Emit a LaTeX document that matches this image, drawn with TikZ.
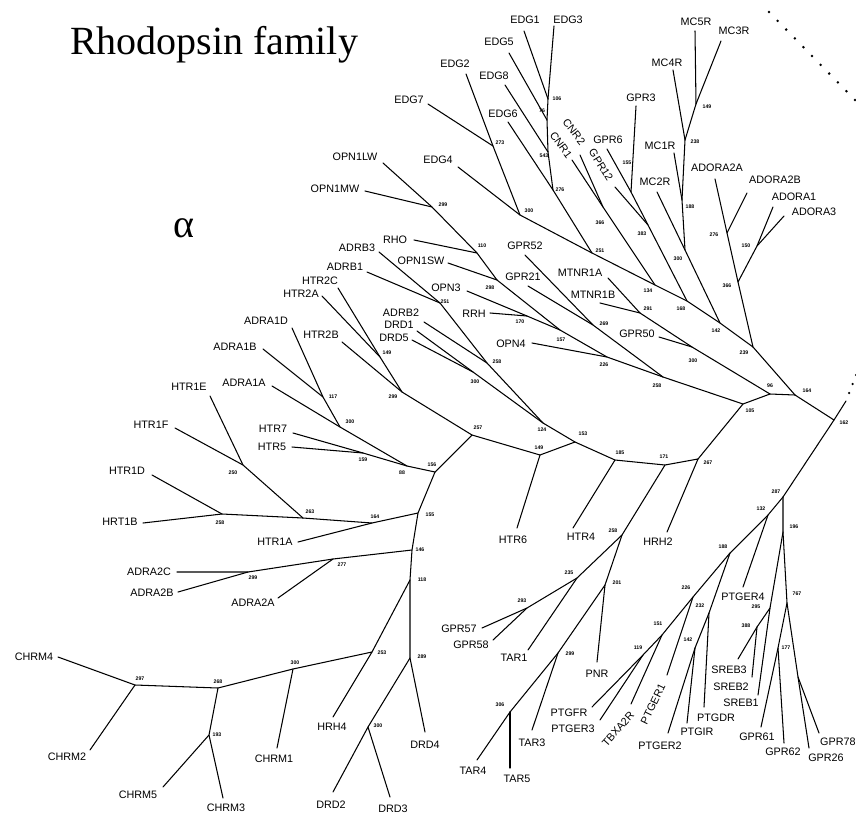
\documentclass[tikz,border=0pt]{standalone}
\usepackage{fontspec}
\setmainfont{Liberation Sans}
\newfontfamily\titlefont{Liberation Serif}
\usetikzlibrary{calc}
\begin{document}
\begin{tikzpicture}[x=1pt,y=-1pt,
  br/.style={line width=1.05pt,line cap=round,line join=round},
  lf/.style={font=\fontsize{10.8}{12}\selectfont,inner sep=0pt},
  bs/.style={font=\fontsize{5.2}{6}\selectfont\bfseries,inner sep=0pt}]
\useasboundingbox (0,0) rectangle (856,814);
\fill[white] (0,0) rectangle (856,814);
% titles
\node[font=\titlefont\fontsize{40}{44}\selectfont,anchor=base west,inner sep=0pt] (title) at (70,54) {Rhodopsin family};
\node[font=\titlefont\fontsize{40}{44}\selectfont,anchor=base,inner sep=0pt] (alpha) at (184,237) {α};
% ---------- internal nodes ----------
\coordinate (n106) at (548,99);
\coordinate (n76) at (547,120);
\coordinate (n543) at (548,152);
\coordinate (n276a) at (553,190);
\coordinate (n273) at (493,146);
\coordinate (n300a) at (520,215);
\coordinate (n251a) at (592,253);
\coordinate (n366a) at (603,207);
\coordinate (n134) at (655,285);
\coordinate (n155a) at (631,192);
\coordinate (n383) at (648,225);
\coordinate (n168) at (687,301);
\coordinate (n149a) at (696,104);
\coordinate (n238) at (685,140);
\coordinate (n188a) at (682,200);
\coordinate (n300b) at (685,250);
\coordinate (n142a) at (720,323);
\coordinate (n276b) at (727,233);
\coordinate (n150) at (757,246);
\coordinate (n366b) at (738,282);
\coordinate (n239) at (753,347);
\coordinate (n164a) at (795,395);
\coordinate (n96) at (770,394);
\coordinate (n162) at (834,420);
\coordinate (n105) at (743,404);
\coordinate (n291) at (640,313);
\coordinate (n300c) at (692,347);
\coordinate (n258a) at (663,377);
\coordinate (n269) at (593,325);
\coordinate (n226a) at (607,357);
\coordinate (n157) at (560,330);
\coordinate (n170) at (527,316);
\coordinate (n298) at (497,280);
\coordinate (n110) at (477,253);
\coordinate (n299a) at (432,207);
\coordinate (n251b) at (440,303);
\coordinate (n258b) at (487,363);
\coordinate (n300d) at (473,372);
\coordinate (n124) at (543,423);
\coordinate (n153) at (575,442);
\coordinate (n149b) at (540,455);
\coordinate (n257) at (472,435);
\coordinate (n299b) at (402,392);
\coordinate (n149c) at (380,357);
\coordinate (n156) at (435,472);
\coordinate (n88) at (407,466);
\coordinate (n159) at (363,453);
\coordinate (n300e) at (340,427);
\coordinate (n117) at (323,397);
\coordinate (n155b) at (418,513);
\coordinate (n164b) at (372,523);
\coordinate (n263) at (303,518);
\coordinate (n258c) at (222,514);
\coordinate (n250) at (243,465);
\coordinate (n146) at (412,550);
\coordinate (n277) at (333,559);
\coordinate (n299c) at (248,572);
\coordinate (n118) at (410,580);
\coordinate (n253) at (372,652);
\coordinate (n300f) at (293,669);
\coordinate (n268) at (218,688);
\coordinate (n297) at (135,685);
\coordinate (n193) at (209,735);
\coordinate (n289) at (410,658);
\coordinate (n300g) at (368,727);
\coordinate (n185) at (615,460);
\coordinate (n171) at (665,465);
\coordinate (n267) at (698,459);
\coordinate (n258d) at (622,535);
\coordinate (n235) at (577,578);
\coordinate (n293) at (527,608);
\coordinate (n201) at (605,585);
\coordinate (n299d) at (558,653);
\coordinate (n306) at (510,712);
\coordinate (n287) at (783,497);
\coordinate (n132) at (768,515);
\coordinate (n196) at (783,532);
\coordinate (n295) at (770,608);
\coordinate (n388) at (757,627);
\coordinate (n767) at (787,603);
\coordinate (n177) at (778,648);
\coordinate (n78) at (798,677);
\coordinate (n188b) at (730,553);
\coordinate (n226b) at (693,597);
\coordinate (n232) at (709,613);
\coordinate (n142b) at (695,648);
\coordinate (n151) at (662,635);
\coordinate (n119) at (643,655);
\coordinate (dA) at (769,12);
\coordinate (dB) at (855,100);
\coordinate (dC) at (846,401);
% ---------- leaf tips ----------
\coordinate (tEDG1) at (524,31);
\coordinate (tEDG3) at (554,26);
\coordinate (tEDG5) at (509,53);
\coordinate (tEDG2) at (466,74);
\coordinate (tEDG8) at (505,85);
\coordinate (tEDG7) at (428,104);
\coordinate (tEDG6) at (508,122);
\coordinate (tEDG4) at (458,167);
\coordinate (tOPN1LW) at (383,163);
\coordinate (tOPN1MW) at (365,191);
\coordinate (tRHO) at (414,240);
\coordinate (tOPN1SW) at (448,263);
\coordinate (tADRB3) at (379,252);
\coordinate (tADRB1) at (367,272);
\coordinate (tHTR2C) at (338,288);
\coordinate (tHTR2A) at (322,296);
\coordinate (tHTR2B) at (342,342);
\coordinate (tADRA1D) at (292,328);
\coordinate (tADRA1B) at (263,349);
\coordinate (tADRA1A) at (272,386);
\coordinate (tHTR1E) at (210,396);
\coordinate (tHTR1F) at (175,428);
\coordinate (tHTR1D) at (152,475);
\coordinate (tHRT1B) at (143,523);
\coordinate (tHTR7) at (293,433);
\coordinate (tHTR5) at (292,447);
\coordinate (tHTR1A) at (298,542);
\coordinate (tADRA2C) at (177,572);
\coordinate (tADRA2B) at (178,592);
\coordinate (tADRA2A) at (278,598);
\coordinate (tCHRM4) at (58,657);
\coordinate (tCHRM2) at (90,750);
\coordinate (tCHRM5) at (163,787);
\coordinate (tCHRM3) at (223,798);
\coordinate (tCHRM1) at (277,748);
\coordinate (tHRH4) at (333,717);
\coordinate (tDRD4) at (425,732);
\coordinate (tDRD2) at (333,792);
\coordinate (tDRD3) at (390,797);
\coordinate (tGPR57) at (482,628);
\coordinate (tGPR58) at (493,640);
\coordinate (tTAR1) at (528,650);
\coordinate (tTAR3) at (532,730);
\coordinate (tTAR4) at (477,760);
\coordinate (tTAR5) at (510,768);
\coordinate (tPNR) at (597,662);
\coordinate (tHTR4) at (573,528);
\coordinate (tHTR6) at (517,528);
\coordinate (tHRH2) at (667,532);
\coordinate (tPTGFR) at (592,707);
\coordinate (tPTGER3) at (600,720);
\coordinate (tTBXA2R) at (631,704);
\coordinate (tPTGER1) at (667,675);
\coordinate (tPTGER2) at (668,733);
\coordinate (tPTGIR) at (687,723);
\coordinate (tPTGDR) at (704,707);
\coordinate (tPTGER4) at (743,587);
\coordinate (tSREB3) at (738,659);
\coordinate (tSREB2) at (752,677);
\coordinate (tSREB1) at (758,695);
\coordinate (tGPR61) at (761,727);
\coordinate (tGPR62) at (784,743);
\coordinate (tGPR26) at (809,748);
\coordinate (tGPR78) at (819,733);
\coordinate (tGPR3) at (636,106);
\coordinate (tGPR6) at (607,149);
\coordinate (tGPR12) at (615,187);
\coordinate (tCNR2) at (580,155);
\coordinate (tCNR1) at (572,160);
\coordinate (tMC5R) at (695,31);
\coordinate (tMC3R) at (721,41);
\coordinate (tMC4R) at (673,70);
\coordinate (tMC1R) at (674,153);
\coordinate (tMC2R) at (657,192);
\coordinate (tADORA2A) at (715,179);
\coordinate (tADORA2B) at (747,193);
\coordinate (tADORA1) at (773,207);
\coordinate (tADORA3) at (784,216);
\coordinate (tGPR52) at (525,255);
\coordinate (tGPR21) at (528,286);
\coordinate (tMTNR1A) at (608,278);
\coordinate (tMTNR1B) at (600,303);
\coordinate (tGPR50) at (659,337);
\coordinate (tOPN3) at (467,291);
\coordinate (tRRH) at (490,313);
\coordinate (tOPN4) at (532,343);
\coordinate (tADRB2) at (424,322);
\coordinate (tDRD1) at (417,331);
\coordinate (tDRD5) at (412,340);
% ---------- branches ----------
\draw[br] (tEDG1) -- (n106);
\draw[br] (tEDG3) -- (n106) -- (n76) -- (n543) -- (n276a) -- (n251a);
\draw[br] (tEDG5) -- (n76);
\draw[br] (tEDG8) -- (n543);
\draw[br] (tEDG6) -- (n276a);
\draw[br] (tEDG2) -- (n273) -- (n300a) -- (n251a);
\draw[br] (tEDG7) -- (n273);
\draw[br] (tEDG4) -- (n300a);
\draw[br] (n251a) -- (n134) -- (n168) -- (n142a) -- (n239) -- (n164a) -- (n162) -- (n287);
\draw[br] (tCNR2) -- (n366a);
\draw[br] (tCNR1) -- (n366a) -- (n134);
\draw[br] (tGPR6) -- (n155a) -- (n383) -- (n168);
\draw[br] (tGPR3) -- (n155a);
\draw[br] (tGPR12) -- (n383);
\draw[br] (tMC5R) -- (n149a) -- (n238) -- (n188a) -- (n300b) -- (n142a);
\draw[br] (tMC3R) -- (n149a);
\draw[br] (tMC4R) -- (n238);
\draw[br] (tMC1R) -- (n188a);
\draw[br] (tMC2R) -- (n300b);
\draw[br] (tADORA2A) -- (n276b) -- (n366b) -- (n239);
\draw[br] (tADORA2B) -- (n276b);
\draw[br] (tADORA1) -- (n150) -- (n366b);
\draw[br] (tADORA3) -- (n150);
\draw[br] (tMTNR1A) -- (n291) -- (n300c) -- (n96) -- (n164a);
\draw[br] (tMTNR1B) -- (n291);
\draw[br] (tGPR50) -- (n300c);
\draw[br] (n96) -- (n105);
\draw[br] (tGPR52) -- (n269) -- (n258a) -- (n105) -- (n267);
\draw[br] (tGPR21) -- (n269);
\draw[br] (tOPN1LW) -- (n299a) -- (n110) -- (n298) -- (n157) -- (n226a) -- (n258a);
\draw[br] (tOPN1MW) -- (n299a);
\draw[br] (tRHO) -- (n110);
\draw[br] (tOPN1SW) -- (n298);
\draw[br] (tOPN3) -- (n170) -- (n157);
\draw[br] (tRRH) -- (n170);
\draw[br] (tOPN4) -- (n226a);
\draw[br] (tADRB3) -- (n251b) -- (n258b) -- (n124) -- (n153) -- (n185) -- (n171) -- (n267);
\draw[br] (tADRB1) -- (n251b);
\draw[br] (tADRB2) -- (n258b);
\draw[br] (tDRD1) -- (n300d) -- (n124);
\draw[br] (tDRD5) -- (n300d);
\draw[br] (tHTR2C) -- (n149c) -- (n299b) -- (n257) -- (n149b) -- (n153);
\draw[br] (tHTR2A) -- (n149c);
\draw[br] (tHTR2B) -- (n299b);
\draw[br] (tHTR6) -- (n149b);
\draw[br] (tHTR4) -- (n185);
\draw[br] (tHRH2) -- (n267);
\draw[br] (n171) -- (n258d) -- (n235) -- (n293) -- (tGPR57);
\draw[br] (tGPR58) -- (n293);
\draw[br] (tTAR1) -- (n235);
\draw[br] (n258d) -- (n201) -- (n299d) -- (n306) -- (tTAR4);
\draw[br] (tPNR) -- (n201);
\draw[br] (tTAR3) -- (n299d);
\draw[br] (tTAR5) -- (n306);
\draw[br] (n257) -- (n156) -- (n155b) -- (n146) -- (n118) -- (n289) -- (n300g) -- (tDRD2);
\draw[br] (tHTR7) -- (n159) -- (n88) -- (n156);
\draw[br] (tHTR5) -- (n159);
\draw[br] (tADRA1D) -- (n117) -- (n300e) -- (n88);
\draw[br] (tADRA1B) -- (n117);
\draw[br] (tADRA1A) -- (n300e);
\draw[br] (tHTR1F) -- (n250) -- (n263) -- (n164b) -- (n155b);
\draw[br] (tHTR1E) -- (n250);
\draw[br] (tHTR1D) -- (n258c) -- (n263);
\draw[br] (tHRT1B) -- (n258c);
\draw[br] (tHTR1A) -- (n164b);
\draw[br] (tADRA2C) -- (n299c) -- (n277) -- (n146);
\draw[br] (tADRA2B) -- (n299c);
\draw[br] (tADRA2A) -- (n277);
\draw[br] (tHRH4) -- (n253) -- (n118);
\draw[br] (n253) -- (n300f) -- (n268) -- (n297) -- (tCHRM4);
\draw[br] (tCHRM1) -- (n300f);
\draw[br] (tCHRM2) -- (n297);
\draw[br] (n268) -- (n193) -- (tCHRM5);
\draw[br] (tCHRM3) -- (n193);
\draw[br] (tDRD4) -- (n289);
\draw[br] (tDRD3) -- (n300g);
\draw[br] (n287) -- (n132) -- (n188b) -- (n226b) -- (n151) -- (n119) -- (tPTGFR);
\draw[br] (tPTGER3) -- (n119);
\draw[br] (tTBXA2R) -- (n151);
\draw[br] (tPTGER1) -- (n226b);
\draw[br] (n188b) -- (n232) -- (n142b) -- (tPTGER2);
\draw[br] (tPTGDR) -- (n232);
\draw[br] (tPTGIR) -- (n142b);
\draw[br] (tPTGER4) -- (n132);
\draw[br] (n287) -- (n196) -- (n767) -- (n177) -- (tGPR61);
\draw[br] (tGPR62) -- (n177);
\draw[br] (n767) -- (n78) -- (tGPR26);
\draw[br] (tGPR78) -- (n78);
\draw[br] (n196) -- (n295) -- (tSREB1);
\draw[br] (n295) -- (n388) -- (tSREB3);
\draw[br] (tSREB2) -- (n388);
\draw[br] (n162) -- (dC);
\foreach \i in {0,...,10} \fill ($(dA)!\i/10!(dB)$) circle (1.4pt);
\foreach \p in {(849,393),(852.5,384),(856,375)} \fill \p circle (1.25pt);
% ---------- leaf labels ----------
\node[lf] (lEDG1) at (525,20) {EDG1};
\node[lf] (lEDG3) at (568,20) {EDG3};
\node[lf] (lEDG5) at (499,42) {EDG5};
\node[lf] (lEDG2) at (455,64) {EDG2};
\node[lf] (lEDG8) at (494,76) {EDG8};
\node[lf] (lEDG7) at (409,100) {EDG7};
\node[lf] (lEDG6) at (503,114) {EDG6};
\node[lf] (lEDG4) at (438,160) {EDG4};
\node[lf] (lOPN1LW) at (355,157) {OPN1LW};
\node[lf] (lOPN1MW) at (335,189) {OPN1MW};
\node[lf] (lRHO) at (395,240) {RHO};
\node[lf] (lOPN1SW) at (421,261) {OPN1SW};
\node[lf] (lADRB3) at (357,248) {ADRB3};
\node[lf] (lADRB1) at (345,267) {ADRB1};
\node[lf] (lHTR2C) at (320,281) {HTR2C};
\node[lf] (lHTR2A) at (301,294) {HTR2A};
\node[lf] (lHTR2B) at (321,335) {HTR2B};
\node[lf] (lADRA1D) at (266,321) {ADRA1D};
\node[lf] (lADRA1B) at (235,347) {ADRA1B};
\node[lf] (lADRA1A) at (244,383) {ADRA1A};
\node[lf] (lHTR1E) at (189,387) {HTR1E};
\node[lf] (lHTR1F) at (151,425) {HTR1F};
\node[lf] (lHTR1D) at (127,471) {HTR1D};
\node[lf] (lHRT1B) at (120,522) {HRT1B};
\node[lf] (lHTR7) at (273,429) {HTR7};
\node[lf] (lHTR5) at (272,447) {HTR5};
\node[lf] (lHTR1A) at (275,542) {HTR1A};
\node[lf] (lADRA2C) at (149,572) {ADRA2C};
\node[lf] (lADRA2B) at (152,593) {ADRA2B};
\node[lf] (lADRA2A) at (253,603) {ADRA2A};
\node[lf] (lCHRM4) at (34,657) {CHRM4};
\node[lf] (lCHRM2) at (67,757) {CHRM2};
\node[lf] (lCHRM5) at (138,795) {CHRM5};
\node[lf] (lCHRM3) at (226,808) {CHRM3};
\node[lf] (lCHRM1) at (274,759) {CHRM1};
\node[lf] (lHRH4) at (332,727) {HRH4};
\node[lf] (lDRD4) at (425,745) {DRD4};
\node[lf] (lDRD2) at (331,805) {DRD2};
\node[lf] (lDRD3) at (393,809) {DRD3};
\node[lf] (lGPR57) at (459,629) {GPR57};
\node[lf] (lGPR58) at (471,645) {GPR58};
\node[lf] (lTAR1) at (514,658) {TAR1};
\node[lf] (lTAR3) at (532,743) {TAR3};
\node[lf] (lTAR4) at (473,771) {TAR4};
\node[lf] (lTAR5) at (517,779) {TAR5};
\node[lf] (lPNR) at (597,674) {PNR};
\node[lf] (lHTR4) at (581,537) {HTR4};
\node[lf] (lHTR6) at (513,540) {HTR6};
\node[lf] (lHRH2) at (658,542) {HRH2};
\node[lf] (lPTGFR) at (569,713) {PTGFR};
\node[lf] (lPTGER3) at (573,729) {PTGER3};
\node[lf,rotate=48] (lTBXA2R) at (618,729) {TBXA2R};
\node[lf,rotate=64] (lPTGER1) at (653,704) {PTGER1};
\node[lf] (lPTGER2) at (660,746) {PTGER2};
\node[lf] (lPTGIR) at (697,732) {PTGIR};
\node[lf] (lPTGDR) at (716,718) {PTGDR};
\node[lf] (lPTGER4) at (743,597) {PTGER4};
\node[lf] (lSREB3) at (729,670) {SREB3};
\node[lf] (lSREB2) at (731,687) {SREB2};
\node[lf] (lSREB1) at (741,703) {SREB1};
\node[lf] (lGPR61) at (757,737) {GPR61};
\node[lf] (lGPR62) at (783,752) {GPR62};
\node[lf] (lGPR26) at (826,758) {GPR26};
\node[lf,anchor=west] (lGPR78) at (820,742) {GPR78};
\node[lf] (lGPR3) at (641,98) {GPR3};
\node[lf] (lGPR6) at (608,140) {GPR6};
\node[lf,rotate=-58] (lGPR12) at (601,165) {GPR12};
\node[lf,rotate=-52] (lCNR2) at (574,132) {CNR2};
\node[lf,rotate=-54] (lCNR1) at (561,145) {CNR1};
\node[lf] (lMC5R) at (696,22) {MC5R};
\node[lf] (lMC3R) at (734,31) {MC3R};
\node[lf] (lMC4R) at (667,63) {MC4R};
\node[lf] (lMC1R) at (660,146) {MC1R};
\node[lf] (lMC2R) at (655,182) {MC2R};
\node[lf] (lADORA2A) at (717,168) {ADORA2A};
\node[lf] (lADORA2B) at (775,180) {ADORA2B};
\node[lf] (lADORA1) at (794,197) {ADORA1};
\node[lf] (lADORA3) at (814,212) {ADORA3};
\node[lf] (lGPR52) at (525,246) {GPR52};
\node[lf] (lGPR21) at (523,277) {GPR21};
\node[lf] (lMTNR1A) at (580,273) {MTNR1A};
\node[lf] (lMTNR1B) at (593,295) {MTNR1B};
\node[lf] (lGPR50) at (637,334) {GPR50};
\node[lf] (lOPN3) at (446,288) {OPN3};
\node[lf] (lRRH) at (474,314) {RRH};
\node[lf] (lOPN4) at (511,344) {OPN4};
\node[lf] (lADRB2) at (401,313) {ADRB2};
\node[lf] (lDRD1) at (399,325) {DRD1};
\node[lf] (lDRD5) at (394,338) {DRD5};
% ---------- bootstrap values ----------
\node[bs] (b01) at (557,99) {106};
\node[bs] (b02) at (542,111) {76};
\node[bs] (b03) at (544,156) {543};
\node[bs] (b04) at (560,190) {276};
\node[bs] (b05) at (500,143) {273};
\node[bs] (b06) at (529,211) {300};
\node[bs] (b07) at (600,251) {251};
\node[bs] (b08) at (600,223) {366};
\node[bs] (b09) at (627,163) {155};
\node[bs] (b10) at (642,234) {383};
\node[bs] (b11) at (648,291) {134};
\node[bs] (b12) at (681,309) {168};
\node[bs] (b13) at (678,259) {300};
\node[bs] (b14) at (707,107) {149};
\node[bs] (b15) at (695,142) {238};
\node[bs] (b16) at (690,207) {188};
\node[bs] (b17) at (716,331) {142};
\node[bs] (b18) at (714,235) {276};
\node[bs] (b19) at (746,246) {150};
\node[bs] (b20) at (727,286) {366};
\node[bs] (b21) at (744,353) {239};
\node[bs] (b22) at (807,391) {164};
\node[bs] (b23) at (770,386) {96};
\node[bs] (b24) at (844,423) {162};
\node[bs] (b25) at (750,411) {105};
\node[bs] (b26) at (648,309) {291};
\node[bs] (b27) at (693,361) {300};
\node[bs] (b28) at (657,386) {258};
\node[bs] (b29) at (604,324) {269};
\node[bs] (b30) at (604,365) {226};
\node[bs] (b31) at (561,340) {157};
\node[bs] (b32) at (520,322) {170};
\node[bs] (b33) at (490,288) {298};
\node[bs] (b34) at (482,246) {110};
\node[bs] (b35) at (443,205) {299};
\node[bs] (b36) at (445,302) {251};
\node[bs] (b37) at (497,362) {258};
\node[bs] (b38) at (475,382) {300};
\node[bs] (b39) at (542,430) {124};
\node[bs] (b40) at (583,434) {153};
\node[bs] (b41) at (539,448) {149};
\node[bs] (b42) at (478,428) {257};
\node[bs] (b43) at (393,397) {299};
\node[bs] (b44) at (387,353) {149};
\node[bs] (b45) at (432,465) {156};
\node[bs] (b46) at (402,473) {88};
\node[bs] (b47) at (363,460) {159};
\node[bs] (b48) at (350,422) {300};
\node[bs] (b49) at (333,397) {117};
\node[bs] (b50) at (430,515) {155};
\node[bs] (b51) at (375,517) {164};
\node[bs] (b52) at (310,512) {263};
\node[bs] (b53) at (220,523) {258};
\node[bs] (b54) at (233,473) {250};
\node[bs] (b55) at (420,550) {146};
\node[bs] (b56) at (342,565) {277};
\node[bs] (b57) at (253,578) {299};
\node[bs] (b58) at (422,580) {118};
\node[bs] (b59) at (382,653) {253};
\node[bs] (b60) at (295,663) {300};
\node[bs] (b61) at (218,682) {268};
\node[bs] (b62) at (140,679) {297};
\node[bs] (b63) at (217,735) {193};
\node[bs] (b64) at (422,657) {289};
\node[bs] (b65) at (378,726) {300};
\node[bs] (b66) at (620,453) {185};
\node[bs] (b67) at (664,457) {171};
\node[bs] (b68) at (708,463) {267};
\node[bs] (b69) at (613,531) {258};
\node[bs] (b70) at (569,573) {235};
\node[bs] (b71) at (522,601) {293};
\node[bs] (b72) at (617,583) {201};
\node[bs] (b73) at (570,654) {299};
\node[bs] (b74) at (500,705) {306};
\node[bs] (b75) at (776,492) {287};
\node[bs] (b76) at (761,509) {132};
\node[bs] (b77) at (794,527) {196};
\node[bs] (b78) at (756,607) {295};
\node[bs] (b79) at (746,626) {388};
\node[bs] (b80) at (797,594) {767};
\node[bs] (b81) at (786,648) {177};
\node[bs] (b82) at (723,547) {188};
\node[bs] (b83) at (686,588) {226};
\node[bs] (b84) at (700,606) {232};
\node[bs] (b85) at (688,640) {142};
\node[bs] (b86) at (658,624) {151};
\node[bs] (b87) at (638,648) {119};
\end{tikzpicture}
\end{document}
